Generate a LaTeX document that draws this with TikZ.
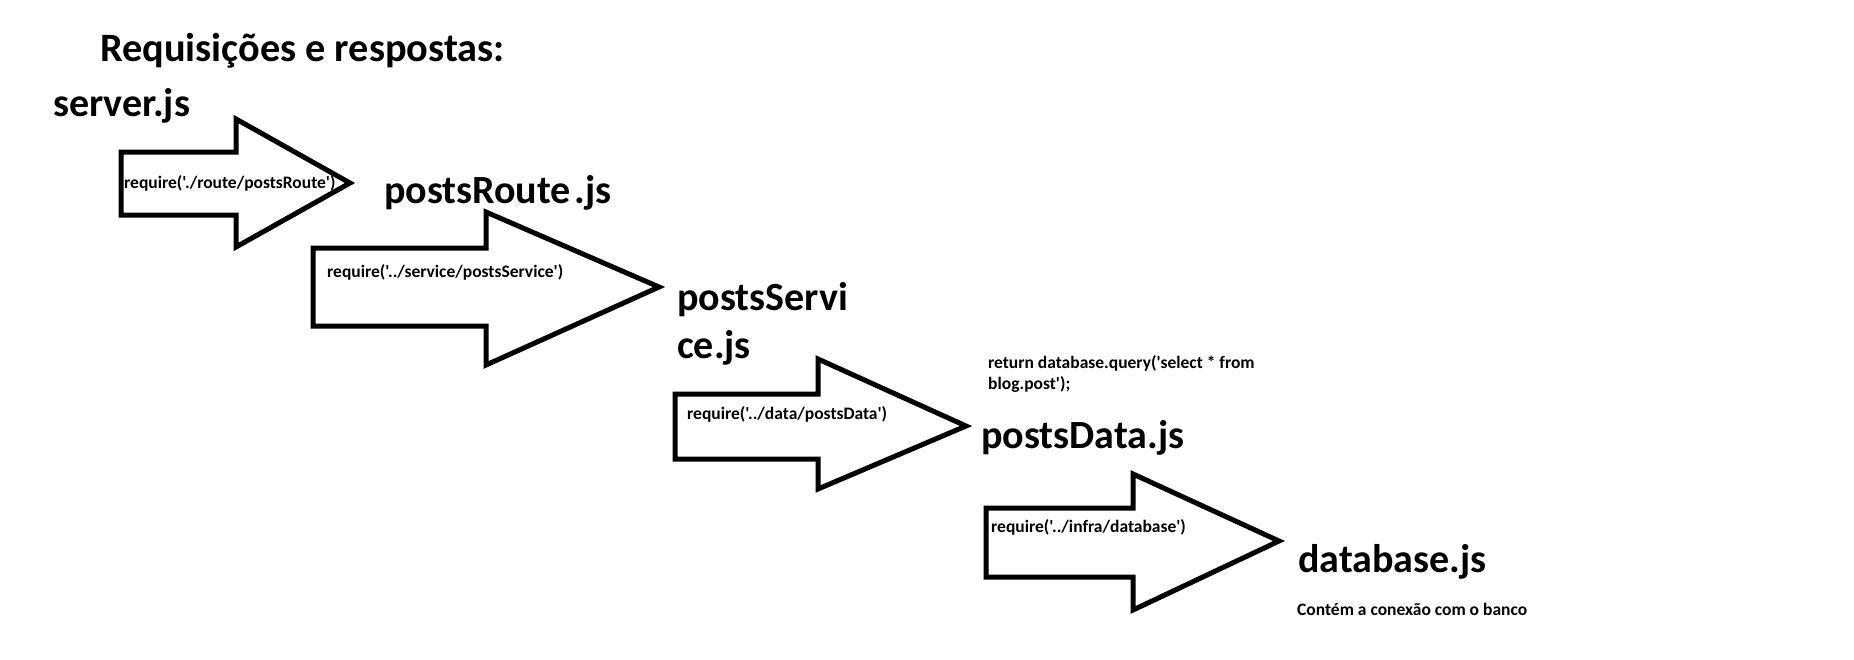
\documentclass[tikz,border=0pt]{standalone}
\usepackage{fontspec}
\setmainfont{Carlito}[Ligatures=TeXOff]
\begin{document}
\begin{tikzpicture}[x=1pt,y=-1pt,
  bigarrow/.style={draw=black,line width=5pt,line join=miter,fill=white},
  bigtxt/.style={anchor=base west,inner sep=0pt,font=\bfseries\fontsize{40}{50}\selectfont},
  smalltxt/.style={anchor=base west,inner sep=0pt,font=\bfseries\fontsize{17.5}{21}\selectfont}]
\useasboundingbox[fill=white] (0,0) rectangle (1854,659);
% arrows: body left, body top, body bottom, head x, head top, head bottom, tip x, tip y
\draw[bigarrow] (121,152) -- (236,152) -- (236,119) -- (350,183) -- (236,247) -- (236,215) -- (121,215) -- cycle;
\draw[bigarrow] (313,248) -- (486,248) -- (486,212) -- (659,287) -- (486,365) -- (486,326) -- (313,326) -- cycle;
\draw[bigarrow] (675,394) -- (818,394) -- (818,359) -- (966,426) -- (818,489) -- (818,459) -- (675,459) -- cycle;
\draw[bigarrow] (986,508) -- (1133,508) -- (1133,474) -- (1279,541) -- (1133,610) -- (1133,577) -- (986,577) -- cycle;
% texts
\node[bigtxt,font=\bfseries\fontsize{40.3}{50}\selectfont] (title) at (100,61) {Requisições e respostas:};
\node[bigtxt] (server) at (53,116) {server.js};
\node[bigtxt] (route) at (384,203) {postsRoute\kern4pt.js};
\node[bigtxt] (service1) at (677,310) {postsServi};
\node[bigtxt] (service2) at (677,358) {ce.js};
\node[bigtxt] (data) at (981,448) {postsData.js};
\node[bigtxt] (db) at (1298,572) {database.js};
\node[smalltxt] (l1) at (124,188) {require('./route/postsRoute')};
\node[smalltxt] (l2) at (327,277) {require('../service/postsService')};
\node[smalltxt] (l3) at (687,419) {require('../data/postsData')};
\node[smalltxt] (l4) at (991,532) {require('../infra/database')};
\node[smalltxt] (ret1) at (988,368) {return database.query('select * from};
\node[smalltxt] (ret2) at (988,389) {blog.post');};
\node[smalltxt] (dbnote) at (1297,615) {Contém a conexão com o banco};
\end{tikzpicture}
\end{document}
